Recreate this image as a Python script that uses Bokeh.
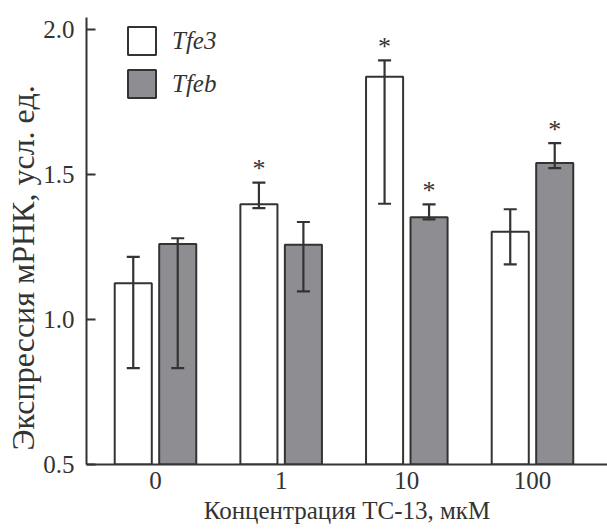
import math
from bokeh.plotting import figure
from bokeh.models import ColumnDataSource, Whisker, TeeHead, Legend, LegendItem, Title, FixedTicker
from bokeh.core.properties import value
from bokeh.embed import file_html
from bokeh.resources import INLINE

# ---- data ----
categories = ["0", "1", "10", "100"]
tfe3 = [1.125, 1.397, 1.837, 1.302]
tfe3_upper = [1.216, 1.472, 1.893, 1.380]
tfe3_lower = [0.832, 1.384, 1.399, 1.190]
tfe3_star = [False, True, True, False]
tfeb = [1.260, 1.258, 1.352, 1.539]
tfeb_upper = [1.280, 1.336, 1.397, 1.608]
tfeb_lower = [0.832, 1.097, 1.345, 1.522]
tfeb_star = [False, False, True, True]
y_ticks = [0.5, 1.0, 1.5, 2.0]
x_title = "Концентрация ТС-13, мкМ"
y_title = "Экспрессия мРНК, усл. ед."

FONT = "Liberation Serif"
INK = "#333333"
GRAY = "#8e8e92"
OFFSET = 0.177
BAR_W = 0.295

idx = list(range(len(categories)))

p = figure(width=607, height=529, output_backend="svg", toolbar_location=None,
           x_range=(-0.549, 3.597), y_range=(0.5, 2.041),
           min_border_left=86, min_border_right=0, min_border_top=17, min_border_bottom=65)
p.outline_line_color = None
p.grid.grid_line_color = None
p.background_fill_color = "white"
p.border_fill_color = "white"

s3 = ColumnDataSource(dict(x=[i - OFFSET for i in idx], top=tfe3, upper=tfe3_upper, lower=tfe3_lower))
sb = ColumnDataSource(dict(x=[i + OFFSET for i in idx], top=tfeb, upper=tfeb_upper, lower=tfeb_lower))

r3 = p.vbar(x="x", top="top", bottom=0, width=BAR_W, source=s3,
            fill_color="white", line_color=INK, line_width=2)
rb = p.vbar(x="x", top="top", bottom=0, width=BAR_W, source=sb,
            fill_color=GRAY, line_color=INK, line_width=2)

for src in (s3, sb):
    w = Whisker(base="x", upper="upper", lower="lower", source=src, level="overlay",
                line_color=INK, line_width=2.2,
                upper_head=TeeHead(size=13, line_color=INK, line_width=2.2),
                lower_head=TeeHead(size=13, line_color=INK, line_width=2.2))
    p.add_layout(w)

# significance stars
sx, sy = [], []
for i in idx:
    if tfe3_star[i]:
        sx.append(i - OFFSET); sy.append(tfe3_upper[i])
    if tfeb_star[i]:
        sx.append(i + OFFSET); sy.append(tfeb_upper[i])
p.text(x=sx, y=sy, text=["*"] * len(sx), text_font=value(FONT), text_font_size="26px",
       text_align="center", text_baseline="alphabetic", y_offset=-14, text_color=INK)

# axes
p.yaxis.ticker = FixedTicker(ticks=y_ticks)
p.yaxis.major_label_overrides = {t: f"{t:.1f}" for t in y_ticks}
p.yaxis.major_tick_in = 9
p.yaxis.major_tick_out = 0
p.yaxis.minor_tick_line_color = None
p.yaxis.major_label_standoff = 12

p.xaxis.ticker = FixedTicker(ticks=idx)
p.xaxis.major_label_overrides = {i: c for i, c in zip(idx, categories)}
p.xaxis.major_tick_in = 0
p.xaxis.major_tick_out = 0
p.xaxis.minor_tick_line_color = None
p.xaxis.major_label_standoff = 7

for ax in (p.xaxis, p.yaxis):
    ax.axis_line_color = INK
    ax.axis_line_width = 2
    ax.major_tick_line_width = 2
    ax.major_label_text_font = FONT
    ax.major_label_text_font_size = "25px"
    ax.major_label_text_color = INK
p.yaxis.major_tick_line_color = INK
p.xaxis.major_tick_line_color = None

xtitle = Title(text=x_title, align="center", vertical_align="bottom",
               standoff=6, text_font=FONT, text_font_size="25px", text_font_style="normal",
               text_color=INK)
p.add_layout(xtitle, "below")

ytitle = Title(text=y_title, align="left", offset=14,
               text_font=FONT, text_font_size="32px", text_font_style="normal",
               text_color=INK, standoff=0)
p.add_layout(ytitle, "left")

legend = Legend(items=[LegendItem(label="Tfe3", renderers=[r3]),
                       LegendItem(label="Tfeb", renderers=[rb])],
                location=(38, 363), orientation="vertical",
                glyph_width=35, glyph_height=35, label_standoff=13, spacing=8,
                padding=0, margin=0, background_fill_alpha=0, border_line_alpha=0,
                label_text_font=FONT, label_text_font_style="italic",
                label_text_font_size="25px", label_text_color=INK)
p.add_layout(legend)

open("out.html", "w").write(file_html(p, INLINE))
